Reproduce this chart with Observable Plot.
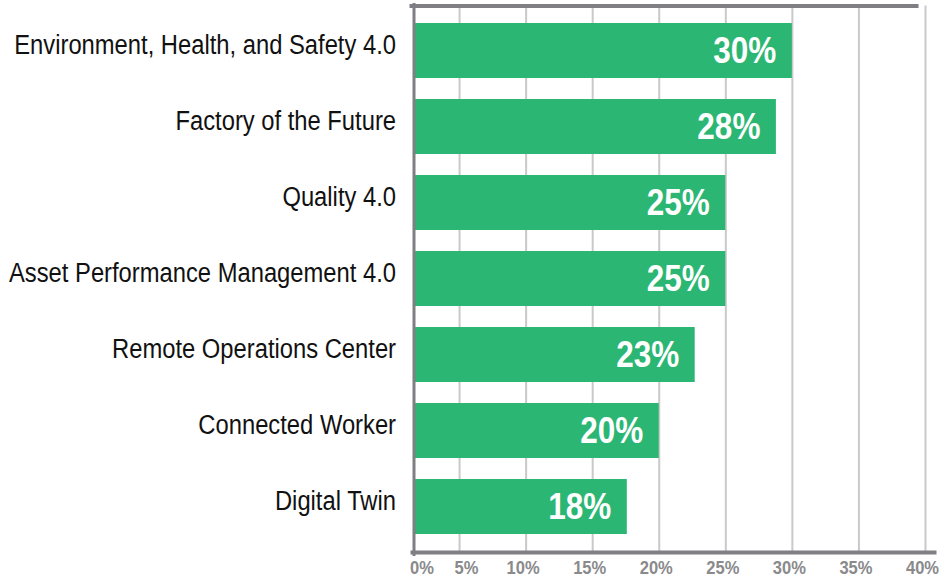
<!DOCTYPE html>
<html>
<head>
<meta charset="utf-8">
<script src="https://cdn.jsdelivr.net/npm/d3@7"></script>
<script src="https://cdn.jsdelivr.net/npm/@observablehq/plot@0.6"></script>
<style>
  html, body { margin: 0; padding: 0; background: #fff; }
  #chart { width: 943px; height: 584px; }
</style>
</head>
<body>
<div id="chart"></div>
<script>
const categories = [
  "Environment, Health, and Safety 4.0",
  "Factory of the Future",
  "Quality 4.0",
  "Asset Performance Management 4.0",
  "Remote Operations Center",
  "Connected Worker",
  "Digital Twin"
];
const values = [30, 28.8, 25, 25, 22.7, 20, 17.6];
const valueLabels = ["30%", "28%", "25%", "25%", "23%", "20%", "18%"];
const tickValues = [0, 5, 10, 15, 20, 25, 30, 35, 40];
const tickLabels = ["0%", "5%", "10%", "15%", "20%", "25%", "30%", "35%", "40%"];

const data = categories.map((c, i) => ({category: c, value: values[i], label: valueLabels[i]}));
const ticks = tickValues.map((v, i) => ({v, label: tickLabels[i], i}));

const font = "'Liberation Sans', Arial, Helvetica, sans-serif";
const green = "#2bb673";
const axisGray = "#7f7f84";
const tickGray = "#8a8a8c";

const chart = Plot.plot({
  width: 943,
  height: 584,
  marginLeft: 413.5,
  marginRight: 18,
  marginTop: 5.5,
  marginBottom: 32,
  style: {fontFamily: font, background: "#fff", overflow: "visible"},
  x: {domain: [0, 40], range: [392.5, 925], axis: null},
  y: {domain: categories, range: [20, 537], paddingInner: 0.271, paddingOuter: 0, axis: null},
  marks: [
    Plot.ruleX(tickValues.slice(1), {stroke: "#c9c9c9", strokeWidth: 2}),
    Plot.barX(data, {y: "category", x: "value", fill: green, clip: true}),
    Plot.text(data, {
      y: "category", x: "value", text: "label", textAnchor: "end", dx: -16, dy: 0,
      fill: "#fff", fontWeight: "bold", fontSize: 36, fontFamily: font
    }),
    Plot.axisY({tickSize: 0, tickPadding: 18, dy: -6, fontSize: 27, fill: "#111", fontFamily: font, label: null}),
    Plot.frame({anchor: "top", stroke: axisGray, strokeWidth: 4, insetRight: 9, insetLeft: -2.5}),
    Plot.frame({anchor: "bottom", stroke: axisGray, strokeWidth: 4, insetRight: -9, insetLeft: -1.5}),
    Plot.frame({anchor: "left", stroke: axisGray, strokeWidth: 3, insetTop: -1.5, insetBottom: -2}),
    Plot.text(ticks.filter(d => d.i === 0), {
      x: "v", text: "label", frameAnchor: "bottom", dy: 21, dx: 29,
      fill: tickGray, fontWeight: "bold", fontSize: 19, fontFamily: font
    }),
    Plot.text(ticks.filter(d => d.i === 1), {
      x: "v", text: "label", frameAnchor: "bottom", dy: 21, dx: 7,
      fill: tickGray, fontWeight: "bold", fontSize: 19, fontFamily: font
    }),
    Plot.text(ticks.filter(d => d.i > 1), {
      x: "v", text: "label", frameAnchor: "bottom", dy: 21, dx: -3,
      fill: tickGray, fontWeight: "bold", fontSize: 19, fontFamily: font
    })
  ]
});
document.getElementById("chart").appendChild(chart);

// condense the text horizontally to mimic the reference's condensed typeface
function condense(selection, factor) {
  selection.each(function() {
    const w = this.getComputedTextLength();
    this.setAttribute("textLength", (w * factor).toFixed(2));
    this.setAttribute("lengthAdjust", "spacingAndGlyphs");
  });
}
const yLabels = d3.select(chart).selectAll('g[aria-label="y-axis tick label"] text');
let longest = 0;
yLabels.each(function() { longest = Math.max(longest, this.getComputedTextLength()); });
condense(yLabels, 387 / longest);
condense(d3.select(chart).selectAll(`g[fill="${tickGray}"] text`), 0.87);
condense(d3.select(chart).selectAll('g[fill="#fff"] text, g[fill="white"] text'), 0.875);
</script>
</body>
</html>
